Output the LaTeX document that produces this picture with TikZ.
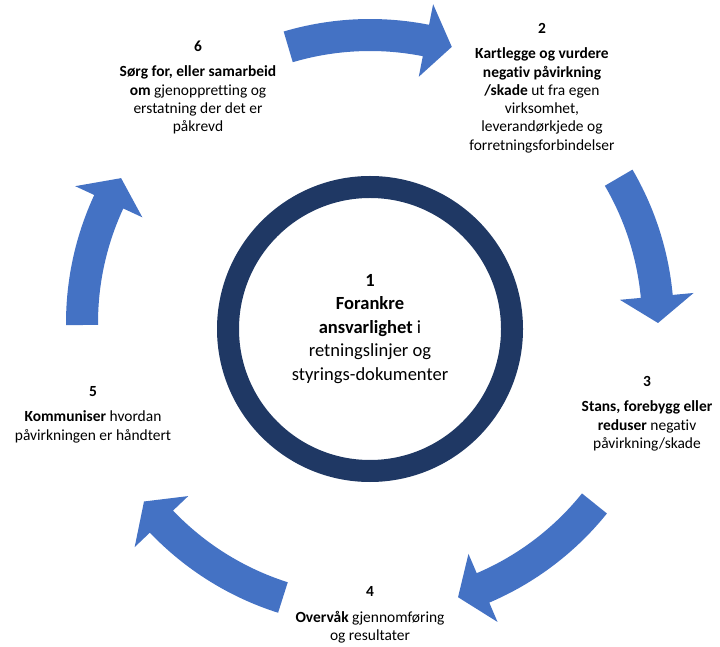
\documentclass[tikz,border=0pt]{standalone}
\usepackage{fontspec}
\setmainfont{Carlito}[Ligatures={NoCommon}]
\usepackage{tikz}
\definecolor{arrowblue}{HTML}{4472C4}
\definecolor{ringnavy}{HTML}{1F3864}

\begin{document}
\begin{tikzpicture}[x=0.75pt, y=0.75pt,
    stage/.style={align=center, font=\fontsize{11.6}{13.7}\selectfont},
    core/.style={circle, draw=ringnavy, line width=16.5pt, minimum size=213pt, inner sep=0pt,
      align=center, font=\fontsize{13.9}{17.6}\selectfont}]
  \useasboundingbox (0,0) rectangle (720,646);
  \coordinate (hub) at (370,323);
  \foreach \a/\t in {106.5/73.5, 30.3/0, -38.8/-72.2, -107.6/-141.7, 180.4/149.8}{
    \pgfmathsetmacro\h{\t+5.3}
    \fill[arrowblue] ([shift={(\a:304)}]hub) arc[start angle=\a, end angle=\h, radius=304]
      -- ([shift={(\h:325)}]hub) -- ([shift={(\t:288)}]hub) -- ([shift={(\h:251)}]hub)
      -- ([shift={(\h:272)}]hub) arc[start angle=\h, end angle=\a, radius=272] -- cycle;
  }
  \node[core] (s1) at (370,317) {\textbf{1}\\ \textbf{Forankre}\\ \textbf{ansvarlighet} i\\ retningslinjer og\\ styrings-dokumenter};
  \node[stage] (s2) at (542,558) {\textbf{2}\\[5.5pt] \textbf{Kartlegge og vurdere}\\ \textbf{negativ påvirkning}\\ \textbf{/skade} ut fra egen\\ virksomhet,\\ leverandørkjede og\\ forretningsforbindelser};
  \node[stage] (s3) at (647,232.5) {\textbf{3}\\[5.5pt] \textbf{Stans, forebygg eller}\\ \textbf{reduser} negativ\\ påvirkning/skade};
  \node[stage] (s4) at (370,31) {\textbf{4}\\[5.5pt] \textbf{Overvåk} gjennomføring\\ og resultater};
  \node[stage] (s5) at (93,231.5) {\textbf{5}\\[5.5pt] \textbf{Kommuniser} hvordan\\ påvirkningen er håndtert};
  \node[stage] (s6) at (198,558.5) {\textbf{6}\\[5.5pt] \textbf{Sørg for, eller samarbeid}\\ \textbf{om} gjenoppretting og\\ erstatning der det er\\ påkrevd};
\end{tikzpicture}
\end{document}
